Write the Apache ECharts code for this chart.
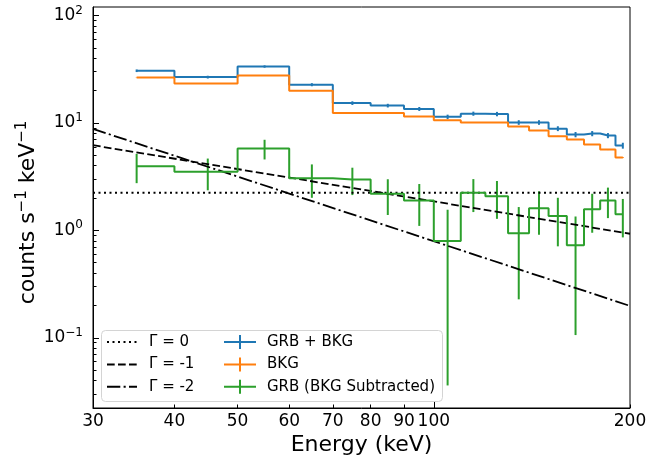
<!DOCTYPE html>
<html><head><meta charset="utf-8">
<script src="https://cdn.jsdelivr.net/npm/echarts@6/dist/echarts.min.js"></script>
<style>html,body{margin:0;padding:0;background:#fff}#c{width:662px;height:459px}</style>
</head><body><div id="c"></div>
<script>
// ---- data ----
const energies   = [35,45,55,65,75,85,95,105,115,125,135,145,155,165,175,185,195];
const grbBkg     = [30.6,26.7,33.5,22.7,15.3,14.5,13.5,11.4,12.2,12.1,10.1,10.1,8.85,7.79,7.96,7.63,6.15];
const grbBkgErr  = [0.85,0.8,0.85,0.75,0.6,0.57,0.57,0.54,0.54,0.57,0.5,0.5,0.46,0.44,0.44,0.42,0.39];
const bkg        = [26.5,23.3,27.7,19.9,12.4,12.4,11.5,10.6,10.1,10.1,9.24,8.48,7.51,7.0,6.29,5.65,4.76];
const bkgErr     = [0.12,0.11,0.12,0.1,0.09,0.09,0.08,0.08,0.08,0.08,0.07,0.07,0.07,0.06,0.06,0.06,0.05];
const grb        = [3.95,3.51,5.77,3.06,2.98,2.19,1.90,0.796,2.24,2.08,0.938,1.61,1.36,0.726,1.57,1.90,1.41];
const grbErr     = [1.2,1.15,1.2,1.05,0.85,0.8,0.8,0.76,0.76,0.8,0.71,0.7,0.65,0.62,0.62,0.6,0.55];

const gammaE     = [30, 200];
const gamma0     = [2.24, 2.24];
const gammaM1    = [6.2, 0.93];
const gammaM2    = [8.8, 0.198];

const xLabelValues = [30,40,50,60,70,80,90,100,200];
const xMajorTicks  = [100];
const xMinorTicks  = [30,40,50,60,70,80,90,200];
const yMajorTicks  = [0.1,1,10,100];
const yMinorTicks  = [0.03,0.04,0.05,0.06,0.07,0.08,0.09,0.2,0.3,0.4,0.5,0.6,0.7,0.8,0.9,2,3,4,5,6,7,8,9,20,30,40,50,60,70,80,90];

const X_MIN = 30, X_MAX = 200, Y_MIN = 0.0222, Y_MAX = 120;

const C_BLUE = '#1f77b4', C_ORANGE = '#ff7f0e', C_GREEN = '#2ca02c';

// ---- helpers ----
function stepsMid(xs, ys) {
  const pts = [];
  for (let i = 0; i < xs.length; i++) {
    pts.push([xs[i], ys[i]]);
    if (i < xs.length - 1) {
      const m = (xs[i] + xs[i + 1]) / 2;
      pts.push([m, ys[i]]);
      pts.push([m, ys[i + 1]]);
    }
  }
  return pts;
}
function errData(xs, ys, es) {
  return xs.map((x, i) => [x, ys[i] - es[i], ys[i] + es[i]]);
}
function errRender(color) {
  return function (params, api) {
    const p1 = api.coord([api.value(0), api.value(1)]);
    const p2 = api.coord([api.value(0), api.value(2)]);
    return { type: 'line', shape: { x1: p1[0], y1: p1[1], x2: p2[0], y2: p2[1] },
             style: { stroke: color, lineWidth: 2 } };
  };
}
function pairs(xs, ys) { return xs.map((x, i) => [x, ys[i]]); }

const crossIcon = 'path://M0,6 L32,6 L32,8 L0,8 Z M15,0 L17,0 L17,14 L15,14 Z';
const FONT = 'DejaVu Sans';

const chart = echarts.init(document.getElementById('c'), null, { renderer: 'canvas' });

const option = {
  animation: false,
  backgroundColor: '#fff',
  textStyle: { fontFamily: FONT, color: '#000' },
  grid: { left: 93, top: 7, width: 537, height: 401, show: true, borderColor: '#000', borderWidth: 1,
          backgroundColor: 'transparent', containLabel: false, outerBoundsMode: 'none' },
  xAxis: [
    { type: 'log', logBase: 10, min: X_MIN, max: X_MAX, position: 'bottom',
      axisLine: { show: true, lineStyle: { color: '#000', width: 1 } },
      axisTick: { show: true, inside: true, length: 6, customValues: xMajorTicks, lineStyle: { color: '#000', width: 1 } },
      axisLabel: { show: true, customValues: xLabelValues, fontSize: 17, color: '#000', fontFamily: FONT, margin: 5,
                   formatter: v => String(Math.round(v)) },
      splitLine: { show: false }, minorTick: { show: false },
      name: 'Energy (keV)', nameLocation: 'middle', nameGap: 26, nameMoveOverlap: false,
      nameTextStyle: { fontSize: 22, color: '#000', fontFamily: FONT } },
    { type: 'log', logBase: 10, min: X_MIN, max: X_MAX, position: 'bottom', offset: 0,
      axisLine: { show: false },
      axisTick: { show: true, inside: true, length: 3.5, customValues: xMinorTicks, lineStyle: { color: '#000', width: 1 } },
      axisLabel: { show: false }, splitLine: { show: false } }
  ],
  yAxis: [
    { type: 'log', logBase: 10, min: Y_MIN, max: Y_MAX, position: 'left',
      axisLine: { show: true, lineStyle: { color: '#000', width: 1 } },
      axisTick: { show: true, inside: true, length: 6, customValues: yMajorTicks, lineStyle: { color: '#000', width: 1 } },
      axisLabel: { show: true, customValues: yMajorTicks, margin: 10, color: '#000',
                   formatter: v => { const e = Math.round(Math.log10(v)); return '{b|10}{s|' + (e < 0 ? '\u2212' + (-e) : e) + '}'; },
                   rich: { b: { fontSize: 17, lineHeight: 20, fontFamily: FONT, color: '#000' },
                           s: { fontSize: 12, lineHeight: 12, fontFamily: FONT, color: '#000', padding: [0, 0, 10, 0] } } },
      splitLine: { show: false }, minorTick: { show: false },
      name: 'counts s{s|\u22121} keV{s|\u22121}', nameLocation: 'middle', nameRotate: 90, nameGap: 51,
      nameMoveOverlap: false,
      nameTextStyle: { fontSize: 22, color: '#000', fontFamily: FONT, padding: [0, 10, 0, 0],
                       rich: { s: { fontSize: 15, fontFamily: FONT, color: '#000', padding: [0, 0, 12, 0] } } } },
    { type: 'log', logBase: 10, min: Y_MIN, max: Y_MAX, position: 'left', offset: 0,
      axisLine: { show: false },
      axisTick: { show: true, inside: true, length: 3.5, customValues: yMinorTicks, lineStyle: { color: '#000', width: 1 } },
      axisLabel: { show: false }, splitLine: { show: false } }
  ],
  graphic: [
    { type: 'rect', left: 101, top: 330, z: 10,
      shape: { width: 341, height: 71, r: 4 },
      style: { fill: 'rgba(255,255,255,0.85)', stroke: '#d4d4d4', lineWidth: 1 } }
  ],
  legend: [
    { left: 106, top: 333, orient: 'vertical', padding: 0, itemGap: 4.4, itemWidth: 30, itemHeight: 14,
      selectedMode: false, z: 20,
      textStyle: { fontSize: 15, color: '#000', fontFamily: FONT, lineHeight: 18, padding: [0, 0, 0, 7] },
      data: [ { name: 'Γ = 0', itemStyle: { opacity: 0 } },
              { name: 'Γ = -1', itemStyle: { opacity: 0 } },
              { name: 'Γ = -2', itemStyle: { opacity: 0 } } ] },
    { left: 224, top: 333, orient: 'vertical', padding: 0, itemGap: 4.4, itemWidth: 32, itemHeight: 14,
      selectedMode: false, z: 20,
      textStyle: { fontSize: 15, color: '#000', fontFamily: FONT, lineHeight: 18, padding: [0, 0, 0, 6] },
      data: [ { name: 'GRB + BKG', icon: crossIcon, itemStyle: { color: C_BLUE, borderWidth: 0 } },
              { name: 'BKG', icon: crossIcon, itemStyle: { color: C_ORANGE, borderWidth: 0 } },
              { name: 'GRB (BKG Subtracted)', icon: crossIcon, itemStyle: { color: C_GREEN, borderWidth: 0 } } ] }
  ],
  series: [
    { name: 'Γ = 0', type: 'line', symbol: 'none', data: pairs(gammaE, gamma0), color: '#000',
      lineStyle: { color: '#000', width: 1.8, type: [2, 3.5] } },
    { name: 'Γ = -1', type: 'line', symbol: 'none', data: pairs(gammaE, gammaM1), color: '#000',
      lineStyle: { color: '#000', width: 1.8, type: [7.7, 3.3] } },
    { name: 'Γ = -2', type: 'line', symbol: 'none', data: pairs(gammaE, gammaM2), color: '#000',
      lineStyle: { color: '#000', width: 1.8, type: [13.3, 3.3, 2.1, 3.3] } },

    { name: 'GRB + BKG', type: 'line', symbol: 'none', data: stepsMid(energies, grbBkg), color: C_BLUE,
      lineStyle: { color: C_BLUE, width: 2 } },
    { name: 'GRB + BKG', type: 'custom', data: errData(energies, grbBkg, grbBkgErr), color: C_BLUE,
      encode: { x: 0, y: [1, 2] }, renderItem: errRender(C_BLUE) },

    { name: 'BKG', type: 'line', symbol: 'none', data: stepsMid(energies, bkg), color: C_ORANGE,
      lineStyle: { color: C_ORANGE, width: 2 } },
    { name: 'BKG', type: 'custom', data: errData(energies, bkg, bkgErr), color: C_ORANGE,
      encode: { x: 0, y: [1, 2] }, renderItem: errRender(C_ORANGE) },

    { name: 'GRB (BKG Subtracted)', type: 'line', symbol: 'none', data: stepsMid(energies, grb), color: C_GREEN,
      lineStyle: { color: C_GREEN, width: 2 } },
    { name: 'GRB (BKG Subtracted)', type: 'custom', data: errData(energies, grb, grbErr), color: C_GREEN,
      encode: { x: 0, y: [1, 2] }, renderItem: errRender(C_GREEN) }
  ]
};
chart.setOption(option);
</script>
</body></html>
